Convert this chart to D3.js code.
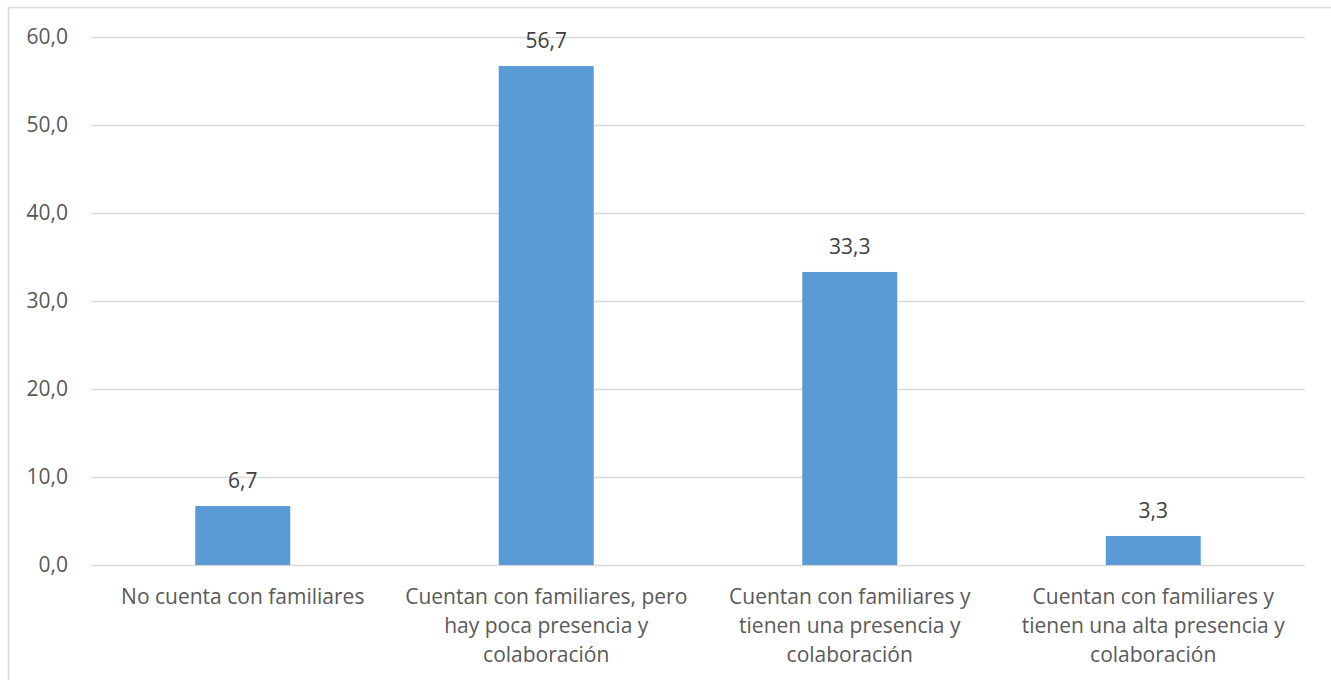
<!DOCTYPE html>
<html>
<head>
<meta charset="utf-8">
<script src="https://cdn.jsdelivr.net/npm/d3@7/dist/d3.min.js"></script>
<style>
  html, body { margin: 0; padding: 0; background: #fff; }
  svg { display: block; }
</style>
</head>
<body>
<svg id="chart" width="1331" height="680"></svg>
<script>
// Categories (line breaks mark where each label wraps)
const categories = [
  "No cuenta con familiares",
  "Cuentan con familiares, pero\nhay poca presencia y\ncolaboración",
  "Cuentan con familiares y\ntienen una presencia y\ncolaboración",
  "Cuentan con familiares y\ntienen una alta presencia y\ncolaboración"
];
// Percentages per category
const values = [6.7, 56.7, 33.3, 3.3];
// Y-axis ticks
const yTicks = [0, 10, 20, 30, 40, 50, 60];

const W = 1331, H = 680;
const margin = { left: 91, right: 26, top: 37, bottom: 115 };
const fontFamily = "'Open Sans', 'Liberation Sans', sans-serif";
const fontSize = "21px";
const fmt = v => d3.format(".1f")(v).replace(".", ",");

const svg = d3.select("#chart");

// Outer chart frame
svg.append("rect")
  .attr("x", 8.5).attr("y", 7.5)
  .attr("width", W + 20).attr("height", H + 20)
  .attr("fill", "none").attr("stroke", "#d9d9d9").attr("stroke-width", 1.5);

const x = d3.scaleBand()
  .domain(categories)
  .range([margin.left, W - margin.right])
  .paddingInner(0.687)
  .paddingOuter(0.3435);

const y = d3.scaleLinear()
  .domain([0, 60])
  .range([H - margin.bottom, margin.top]);

// Horizontal gridlines
svg.append("g")
  .selectAll("line")
  .data(yTicks)
  .join("line")
  .attr("x1", margin.left).attr("x2", W - margin.right)
  .attr("y1", d => Math.round(y(d)) + 0.5).attr("y2", d => Math.round(y(d)) + 0.5)
  .attr("stroke", "#d9d9d9").attr("stroke-width", 1.5);

// Y axis labels
const yAxis = d3.axisLeft(y).tickValues(yTicks).tickFormat(fmt).tickSize(0).tickPadding(0);
const gy = svg.append("g")
  .attr("transform", `translate(${68},0)`)
  .call(yAxis);
gy.select(".domain").remove();
gy.selectAll("text")
  .attr("fill", "#595959")
  .style("font-family", fontFamily)
  .style("font-size", fontSize);

// Bars
svg.append("g")
  .selectAll("rect")
  .data(values)
  .join("rect")
  .attr("x", (d, i) => x(categories[i]))
  .attr("y", d => y(d))
  .attr("width", x.bandwidth())
  .attr("height", d => y(0) - y(d))
  .attr("fill", "#5b9bd5");

// Value labels above the bars
svg.append("g")
  .selectAll("text")
  .data(values)
  .join("text")
  .attr("x", (d, i) => x(categories[i]) + x.bandwidth() / 2)
  .attr("y", d => y(d) - 25)
  .attr("dy", "0.35em")
  .attr("text-anchor", "middle")
  .attr("fill", "#404040")
  .style("font-family", fontFamily)
  .style("font-size", fontSize)
  .text(fmt);

// Category labels
const xl = svg.append("g")
  .selectAll("text")
  .data(categories)
  .join("text")
  .attr("x", d => x(d) + x.bandwidth() / 2)
  .attr("y", y(0) + 32)
  .attr("text-anchor", "middle")
  .attr("fill", "#595959")
  .style("font-family", fontFamily)
  .style("font-size", fontSize);
xl.each(function(d) {
  const t = d3.select(this);
  d.split("\n").forEach((line, i) => {
    t.append("tspan")
      .attr("x", t.attr("x"))
      .attr("dy", i === 0 ? "0.35em" : "29px")
      .text(line);
  });
});
</script>
</body>
</html>
